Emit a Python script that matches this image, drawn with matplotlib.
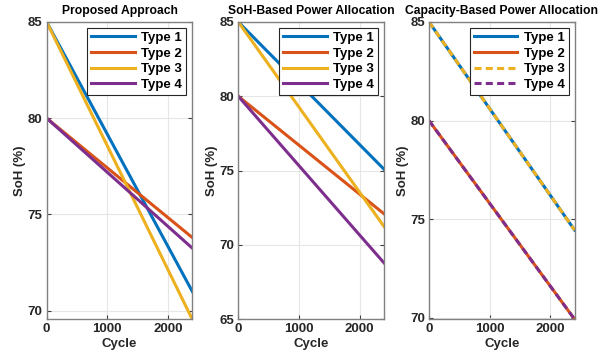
import numpy as np
import matplotlib.pyplot as plt

plt.rcParams['font.family'] = ['Liberation Sans', 'DejaVu Sans']
plt.rcParams['font.weight'] = 'bold'

cycles = [0, 2400]
labels = ['Type 1', 'Type 2', 'Type 3', 'Type 4']
colors = ['#0072BD', '#D95319', '#EDB120', '#7E2F8E']

# SoH (%) at start and end of cycling, per method
proposed = [[85, 71.0], [80, 73.8], [85, 69.55], [80, 73.25]]
soh_based = [[85, 75.1], [80, 72.1], [85, 71.25], [80, 68.8]]
cap_based = [[85, 74.45], [80, 69.93], [85, 74.45], [80, 69.93]]

titles = ['Proposed Approach', 'SoH-Based Power Allocation', 'Capacity-Based Power Allocation']
ylims = [(69.55, 85), (65, 85), (69.93, 85)]
yticks = [[70, 75, 80, 85], [65, 70, 75, 80, 85], [70, 75, 80, 85]]
lefts = [0.078, 0.3985, 0.7174]

fig = plt.figure(figsize=(5.98, 3.54), dpi=100)
for k, data in enumerate([proposed, soh_based, cap_based]):
    ax = fig.add_axes([lefts[k], 0.098, 0.2435, 0.84])
    for i in range(4):
        ls = '-'
        if k == 2 and i >= 2:
            ls = (0, (2.3, 1.4))
        ax.plot(cycles, data[i], color=colors[i], lw=2.2, linestyle=ls, label=labels[i])
    ax.set_xlim(0, 2400)
    ax.set_ylim(*ylims[k])
    ax.set_xticks([0, 1000, 2000])
    ax.set_yticks(yticks[k])
    ax.grid(True, color='#e6e6e6', lw=0.8)
    ax.set_axisbelow(True)
    for s in ax.spines.values():
        s.set_color('#808080')
        s.set_linewidth(1.0)
    ax.tick_params(direction='in', length=3, color='#404040', labelsize=9.5,
                   labelcolor='#262626', right=True, top=False, pad=3)
    ax.set_title(titles[k], fontsize=8.7, fontweight='bold', pad=6)
    ax.set_xlabel('Cycle', fontsize=9.5, fontweight='bold', color='#262626', labelpad=2)
    ax.set_ylabel('SoH (%)', fontsize=9.5, fontweight='bold', color='#262626', labelpad=1)
    leg = ax.legend(loc='upper right', fontsize=9.5, fancybox=False, framealpha=1,
                    edgecolor='#262626', borderpad=0.3, labelspacing=0.25,
                    handlelength=3.3, handletextpad=0.5, borderaxespad=0.45)
    leg.get_frame().set_linewidth(0.8)

fig.savefig('out.png', dpi=100)
